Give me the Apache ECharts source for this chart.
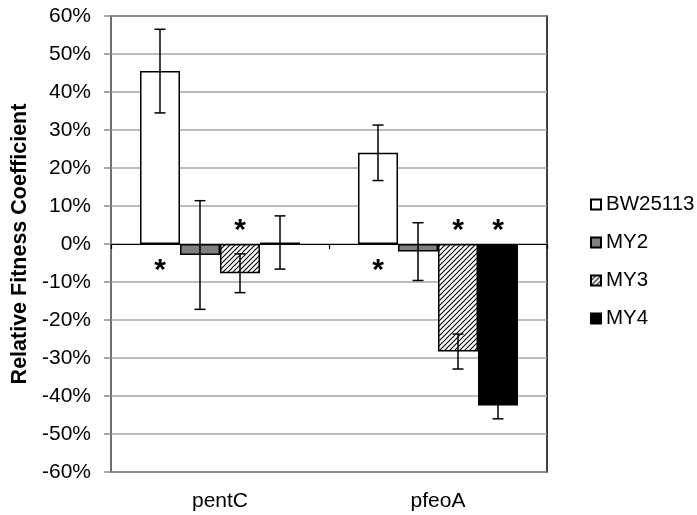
<!DOCTYPE html>
<html>
<head>
<meta charset="utf-8">
<script src="https://cdn.jsdelivr.net/npm/echarts@6/dist/echarts.min.js"></script>
<style>
  html, body { margin: 0; padding: 0; background: #fff; }
  #chart { width: 697px; height: 515px; }
</style>
</head>
<body>
<div id="chart"></div>
<script>
// Genes on the x axis
const categories = ['pentC', 'pfeoA'];
// Strains (legend order)
const strains = ['BW25113', 'MY2', 'MY3', 'MY4'];
// Relative fitness coefficient (%) per strain, one value per gene
const bw25113 = [45.5, 24.0];
const my2 = [-2.9, -2.0];
const my3 = [-7.7, -28.3];
const my4 = [0.4, -42.5];
// Error bar half-lengths (%)
const bw25113Err = [11.0, 7.3];
const my2Err = [14.3, 7.6];
const my3Err = [5.1, 4.6];
const my4Err = [7.0, 3.5];
// Significance flags (asterisks)
const bw25113Sig = [true, true];
const my2Sig = [false, false];
const my3Sig = [true, true];
const my4Sig = [false, true];
// Y axis ticks
const yMin = -60, yMax = 60, yStep = 10;

const values = [bw25113, my2, my3, my4];
const errors = [bw25113Err, my2Err, my3Err, my4Err];
const sigs = [bw25113Sig, my2Sig, my3Sig, my4Sig];

const FONT = '"Liberation Sans", Arial, sans-serif';
const CAT_GAP = 0.266;

// diagonal hatch fill
function hatchPattern() {
  const s = 5;
  const c = document.createElement('canvas');
  c.width = s; c.height = s;
  const g = c.getContext('2d');
  g.fillStyle = '#fff';
  g.fillRect(0, 0, s, s);
  g.strokeStyle = '#000';
  g.lineWidth = 1.1;
  g.beginPath();
  g.moveTo(-1, s + 1); g.lineTo(s + 1, -1);
  g.moveTo(-1, 1); g.lineTo(1, -1);
  g.moveTo(s - 1, s + 1); g.lineTo(s + 1, s - 1);
  g.stroke();
  return { image: c, repeat: 'repeat' };
}

const fills = ['#ffffff', '#7f7f7f', hatchPattern(), '#000000'];

function barX(api, cat, sIdx) {
  const band = api.size([1, 0])[0];
  const barW = band * (1 - CAT_GAP) / strains.length;
  const center = api.coord([cat, 0])[0];
  return center + (sIdx - (strains.length - 1) / 2) * barW;
}

const errData = [];
const starData = [];
values.forEach((arr, s) => {
  arr.forEach((v, c) => {
    errData.push([c, s, v, errors[s][c]]);
    if (sigs[s][c]) starData.push([c, s, v]);
  });
});

const barSeries = strains.map((name, s) => ({
  name: name,
  type: 'bar',
  xAxisIndex: 0,
  data: values[s],
  barGap: 0,
  barCategoryGap: (CAT_GAP * 100) + '%',
  itemStyle: { color: fills[s], borderColor: '#000', borderWidth: 1.5 },
  emphasis: { disabled: true },
  animation: false,
  z: 2
}));

const option = {
  animation: false,
  backgroundColor: '#fff',
  grid: {
    left: 111, right: 150, top: 16, bottom: 43,
    show: true, borderColor: '#000', borderWidth: 1.5, backgroundColor: 'transparent'
  },
  legend: {
    orient: 'vertical',
    left: 585,
    top: 189,
    itemWidth: 10,
    itemHeight: 10,
    itemGap: 17,
    icon: 'rect',
    data: strains,
    textStyle: { fontFamily: FONT, fontSize: 20.5, color: '#000' }
  },
  xAxis: [
    {
      type: 'category',
      data: categories,
      axisLine: { onZero: true, lineStyle: { color: '#000', width: 1.2 } },
      axisTick: { show: true, length: 5, lineStyle: { color: '#000', width: 1.2 } },
      axisLabel: { show: false },
      splitLine: { show: false }
    },
    {
      type: 'category',
      data: categories,
      position: 'bottom',
      axisLine: { show: false, onZero: false },
      axisTick: { show: false },
      axisLabel: { show: true, margin: 19, fontFamily: FONT, fontSize: 21, color: '#000' },
      splitLine: { show: false }
    }
  ],
  yAxis: {
    type: 'value',
    min: yMin, max: yMax, interval: yStep,
    name: 'Relative Fitness Coefficient',
    nameLocation: 'middle',
    nameGap: 77,
    nameTextStyle: { fontFamily: FONT, fontSize: 21.5, fontWeight: 'bold', color: '#000' },
    axisLine: { show: true, lineStyle: { color: '#7f7f7f', width: 1.5 } },
    axisTick: { show: true, length: 7, lineStyle: { color: '#8c8c8c', width: 1.5 } },
    axisLabel: {
      margin: 20, fontFamily: FONT, fontSize: 21, color: '#000',
      formatter: '{value}%'
    },
    splitLine: { show: true, lineStyle: { color: '#a6a6a6', width: 1.5 } }
  },
  series: barSeries.concat([
    {
      name: 'error',
      type: 'custom',
      xAxisIndex: 0,
      data: errData,
      z: 5,
      silent: true,
      encode: { x: 0, y: 2 },
      renderItem: function (params, api) {
        const cat = api.value(0), s = api.value(1), v = api.value(2), e = api.value(3);
        const x = barX(api, cat, s);
        const top = api.coord([cat, v + e])[1];
        const bot = api.coord([cat, v - e])[1];
        const cap = 5.5;
        const st = { stroke: '#000', lineWidth: 1.5 };
        return {
          type: 'group',
          children: [
            { type: 'line', shape: { x1: x, y1: top, x2: x, y2: bot }, style: st },
            { type: 'line', shape: { x1: x - cap, y1: top, x2: x + cap, y2: top }, style: st },
            { type: 'line', shape: { x1: x - cap, y1: bot, x2: x + cap, y2: bot }, style: st }
          ]
        };
      }
    },
    {
      name: 'significance',
      type: 'custom',
      xAxisIndex: 0,
      data: starData,
      z: 6,
      silent: true,
      encode: { x: 0, y: 2 },
      renderItem: function (params, api) {
        const cat = api.value(0), s = api.value(1), v = api.value(2);
        const x = barX(api, cat, s);
        const zeroY = api.coord([cat, 0])[1];
        // asterisk sits on the opposite side of zero from its bar
        const y = v >= 0 ? zeroY + 27 : zeroY - 13;
        return {
          type: 'text',
          x: x, y: y,
          style: {
            text: '*', fontFamily: FONT, fontSize: 30, fontWeight: 'bold',
            fill: '#000', align: 'center', verticalAlign: 'middle'
          }
        };
      }
    }
  ])
};

const chart = echarts.init(document.getElementById('chart'), null, { renderer: 'canvas' });
chart.setOption(option);
</script>
</body>
</html>
